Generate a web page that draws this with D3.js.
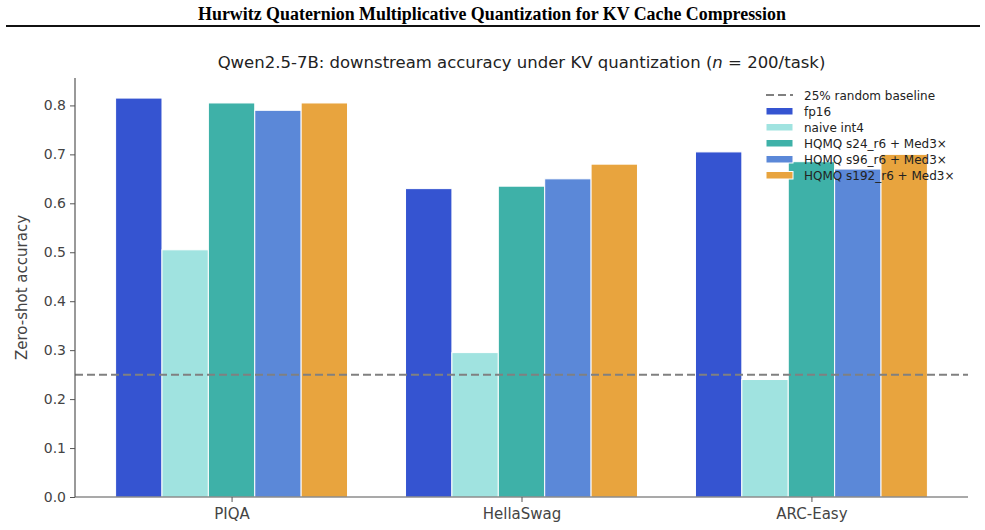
<!DOCTYPE html>
<html>
<head>
<meta charset="utf-8">
<script src="https://cdn.jsdelivr.net/npm/d3@7"></script>
<style>
	body { margin: 0; background: #fff; }
	svg { display: block; }
</style>
</head>
<body>
<svg id="chart"></svg>
<script>
// data (n = 200 per task, so steps of 0.005)
const tasks = ['PIQA', 'HellaSwag', 'ARC-Easy']
const methods = ['fp16', 'naive int4', 'HQMQ s24_r6 + Med3×', 'HQMQ s96_r6 + Med3×', 'HQMQ s192_r6 + Med3×']
const colors = ['#3554d1', '#a0e3e0', '#3eb1a8', '#5b88d8', '#e8a43e']
const fp16 = [0.815, 0.63, 0.705]
const naiveInt4 = [0.505, 0.295, 0.24]
const hqmqS24 = [0.805, 0.635, 0.685]
const hqmqS96 = [0.79, 0.65, 0.67]
const hqmqS192 = [0.805, 0.68, 0.70]
const series = [fp16, naiveInt4, hqmqS24, hqmqS96, hqmqS192]
const yTicks = [0, 0.1, 0.2, 0.3, 0.4, 0.5, 0.6, 0.7, 0.8]
const baseline = 0.25

const W = 985, H = 530
const margin = { top: 78, right: 17, bottom: 33, left: 75 }
const font = 'DejaVu Sans, sans-serif'

const svg = d3.select('#chart').attr('width', W).attr('height', H)

// page header
svg.append('text')
	.attr('x', 492).attr('y', 20)
	.attr('text-anchor', 'middle')
	.style('font-family', 'Liberation Serif, Times New Roman, serif')
	.style('font-weight', 'bold')
	.style('font-size', '17.9px')
	.text('Hurwitz Quaternion Multiplicative Quantization for KV Cache Compression')
svg.append('line')
	.attr('x1', 6).attr('x2', 980).attr('y1', 26).attr('y2', 26)
	.attr('stroke', '#111').attr('stroke-width', 2)

const x0 = margin.left, x1 = W - margin.right
const yBottom = H - margin.bottom

// x in "category units", matplotlib-like: bars span -0.4..2.4 with 5% margin
const x = d3.scaleLinear().domain([-0.54, 2.54]).range([x0, x1])
const y = d3.scaleLinear().domain([0, 0.856]).range([yBottom, margin.top])
const barW = 0.16

const g = svg.append('g')

// bars
series.forEach((vals, si) => {
	g.selectAll(null)
		.data(vals)
		.enter().append('rect')
			.attr('x', (d, i) => x(i - 0.4 + si * barW))
			.attr('width', x(barW) - x(0))
			.attr('y', d => y(d))
			.attr('height', d => y(0) - y(d))
			.attr('fill', colors[si])
			.attr('stroke', '#fff')
			.attr('stroke-width', 1)
})

// baseline
g.append('line')
	.attr('x1', x0).attr('x2', x1)
	.attr('y1', y(baseline)).attr('y2', y(baseline))
	.attr('stroke', '#808080')
	.attr('stroke-width', 2)
	.attr('stroke-dasharray', '8,4')

// axes
const yAxis = d3.axisLeft(y).tickValues(yTicks).tickFormat(d3.format('.1f')).tickSize(5).tickPadding(4)
const yg = svg.append('g').attr('transform', `translate(${x0},0)`).call(yAxis)
yg.select('.domain').attr('d', `M0,${margin.top}V${yBottom}`)

const xAxis = d3.axisBottom(x).tickValues([0, 1, 2]).tickFormat(i => tasks[i]).tickSize(5).tickPadding(6)
const xg = svg.append('g').attr('transform', `translate(0,${yBottom})`).call(xAxis)
xg.select('.domain').attr('d', `M${x0},0H${x1}`)

;[[yg, '14px'], [xg, '15px']].forEach(([a, size]) => {
	a.selectAll('.domain').attr('stroke', '#555').attr('stroke-width', 1.2)
	a.selectAll('.tick line').attr('stroke', '#555')
	a.selectAll('.tick text')
		.style('font-family', font)
		.style('font-size', size)
		.attr('fill', '#444')
})

// titles
svg.append('text')
	.attr('x', (x0 + x1) / 2).attr('y', 68)
	.attr('text-anchor', 'middle')
	.style('font-family', font)
	.style('font-size', '16.5px')
	.attr('fill', '#222')
	.call(t => {
		t.append('tspan').text('Qwen2.5-7B: downstream accuracy under KV quantization (')
		t.append('tspan').style('font-style', 'italic').text('n')
		t.append('tspan').text(' = 200/task)')
	})

svg.append('text')
	.attr('transform', `translate(27,${(margin.top + yBottom) / 2}) rotate(-90)`)
	.attr('text-anchor', 'middle')
	.style('font-family', font)
	.style('font-size', '15px')
	.attr('fill', '#444')
	.text('Zero-shot accuracy')

// legend
const legend = svg.append('g').attr('transform', 'translate(766,95)')
const legendItems = [{ label: '25% random baseline', dash: true }]
	.concat(methods.map((m, i) => ({ label: m, color: colors[i] })))
const row = 16
legendItems.forEach((d, i) => {
	const li = legend.append('g').attr('transform', `translate(0,${i * row})`)
	if (d.dash) {
		li.append('line')
			.attr('x1', 0).attr('x2', 27).attr('y1', 0).attr('y2', 0)
			.attr('stroke', '#808080').attr('stroke-width', 2)
			.attr('stroke-dasharray', '8,4')
	} else {
		li.append('rect')
			.attr('x', 0).attr('y', -3.5).attr('width', 27).attr('height', 7.5)
			.attr('fill', d.color).attr('stroke', '#fff').attr('stroke-width', 1)
	}
	li.append('text')
		.attr('x', 38).attr('y', 4.5)
		.style('font-family', font)
		.style('font-size', '12px')
		.attr('fill', '#222')
		.text(d.label)
})
</script>
</body>
</html>
